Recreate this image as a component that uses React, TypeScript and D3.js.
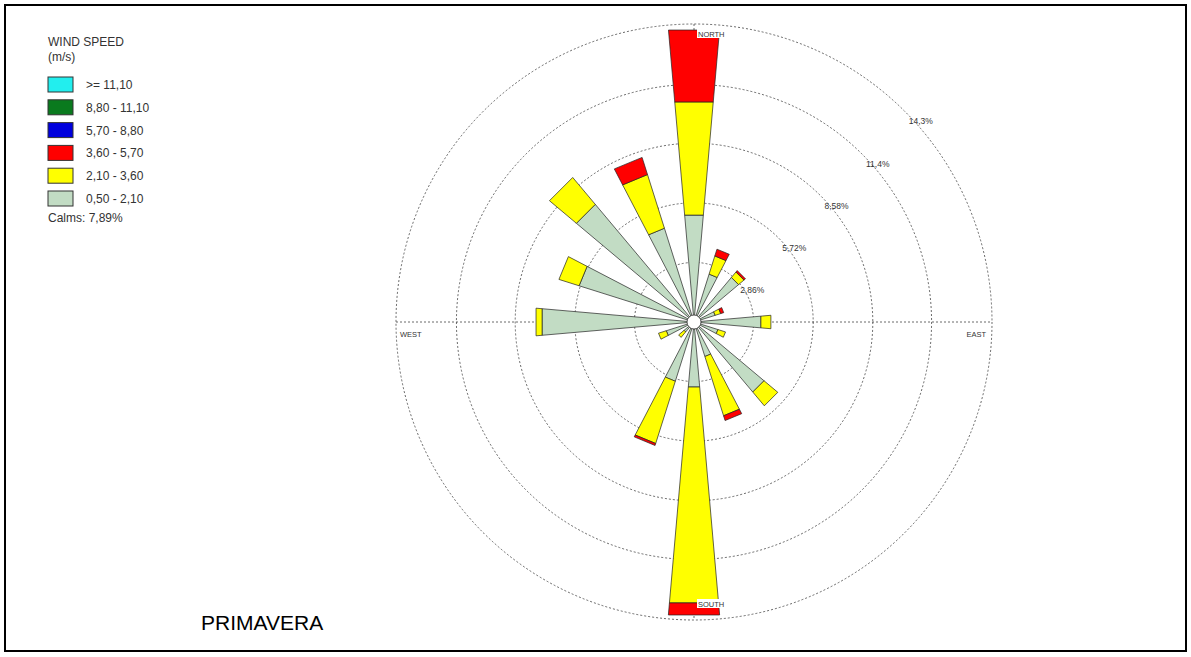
import React from 'react';
import * as d3 from 'd3';

// 16 sectors, clockwise from north
const directions = ['N', 'NNE', 'NE', 'ENE', 'E', 'ESE', 'SE', 'SSE', 'S', 'SSW', 'SW', 'WSW', 'W', 'WNW', 'NW', 'NNW'];

// frequency (%) per speed class
const speed050 = [5.13, 2.4, 2.78, 1.06, 3.21, 1.2, 4.37, 1.73, 3.12, 2.97, 0.62, 1.39, 7.29, 5.76, 7.34, 4.7];
const speed210 = [5.43, 0.91, 0.34, 0.28, 0.48, 0.38, 0.86, 2.97, 10.36, 3.12, 0.34, 0.39, 0.29, 1.01, 1.68, 2.69];
const speed360 = [3.45, 0.34, 0.09, 0.15, 0, 0, 0, 0.24, 0.58, 0.1, 0, 0, 0, 0, 0, 0.86];
const speed570 = [0, 0, 0, 0, 0, 0, 0, 0, 0, 0, 0, 0, 0, 0, 0, 0];
const speed880 = [0, 0, 0, 0, 0, 0, 0, 0, 0, 0, 0, 0, 0, 0, 0, 0];
const speed1110 = [0, 0, 0, 0, 0, 0, 0, 0, 0, 0, 0, 0, 0, 0, 0, 0];

const legendLabels = ['>= 11,10', '8,80 - 11,10', '5,70 - 8,80', '3,60 - 5,70', '2,10 - 3,60', '0,50 - 2,10'];
const legendColors = ['#22eeee', '#0a7a1e', '#0000dd', '#ff0000', '#ffff00', '#c2dcc4'];

const ringValues = [2.86, 5.72, 8.58, 11.4, 14.3];
const ringLabels = ['2,86%', '5,72%', '8,58%', '11,4%', '14,3%'];

const calmsText = 'Calms: 7,89%';
const title = 'PRIMAVERA';

const W = 1191;
const H = 657;
const cx = 694;
const cy = 322;
const font = 'Arial, "Liberation Sans", sans-serif';

export default function App() {
  const keys = ['s050', 's210', 's360', 's570', 's880', 's1110'];
  const series = [speed050, speed210, speed360, speed570, speed880, speed1110];
  const colors = legendColors.slice().reverse();

  const table = directions.map((d, i) => {
    const row: any = { dir: d };
    keys.forEach((k, j) => (row[k] = series[j][i]));
    return row;
  });
  const stacked = d3.stack().keys(keys)(table);

  const r = d3.scaleLinear().domain([0, 14.3]).range([0, 298]);
  const angle = d3.scaleLinear().domain([0, directions.length]).range([0, 2 * Math.PI]);
  const half = (5 * Math.PI) / 180;

  const pt = (a: number, rad: number): [number, number] => [cx + rad * Math.sin(a), cy - rad * Math.cos(a)];
  const line = d3.line();

  const segment = (i: number, v0: number, v1: number) => {
    const a = angle(i);
    const r0 = r(v0) / Math.cos(half);
    const r1 = r(v1) / Math.cos(half);
    return line([pt(a - half, r0), pt(a - half, r1), pt(a + half, r1), pt(a + half, r0)]) + 'Z';
  };

  const rOut = r(14.3);

  return (
    <svg width={W} height={H} style={{ position: 'absolute', left: 0, top: 0 }} fontFamily={font}>
      <rect x={0} y={0} width={W} height={H} fill="#fff" />
      <rect x={5} y={5} width={1181} height={646} fill="none" stroke="#000" strokeWidth={2} />

      {/* rings and axes */}
      {ringValues.map((v) => (
        <circle key={v} cx={cx} cy={cy} r={r(v)} fill="none" stroke="#444" strokeWidth={0.8} strokeDasharray="2,2" />
      ))}
      <line x1={cx - rOut} x2={cx + rOut} y1={cy} y2={cy} stroke="#444" strokeWidth={0.8} strokeDasharray="2,2" />
      <line x1={cx} x2={cx} y1={cy - rOut} y2={cy + rOut} stroke="#444" strokeWidth={0.8} strokeDasharray="2,2" />

      {/* bars */}
      {stacked.map((s, j) => (
        <g key={s.key} fill={colors[j]} stroke="#222" strokeWidth={0.7}>
          {s.map((d, i) =>
            d[1] - d[0] > 0 ? <path key={i} d={segment(i, d[0], d[1])} /> : null
          )}
        </g>
      ))}
      <circle cx={cx} cy={cy} r={7} fill="#fff" stroke="#333" strokeWidth={0.8} />

      {/* ring labels */}
      {ringValues.map((v, i) => {
        const [x, y] = pt(Math.PI / 4, r(v));
        return (
          <text key={v} x={x + 4} y={y + 13} fontSize={8.5} fill="#333">
            {ringLabels[i]}
          </text>
        );
      })}

      {/* compass labels */}
      <rect x={697} y={29} width={26} height={9} fill="#fff" />
      <text x={698} y={37} fontSize={7.5} fill="#333">NORTH</text>
      <rect x={697} y={599} width={26} height={9} fill="#fff" />
      <text x={698} y={607} fontSize={7.5} fill="#333">SOUTH</text>
      <text x={400} y={337} fontSize={7.5} fill="#333">WEST</text>
      <text x={986} y={337} fontSize={7.5} fill="#333" textAnchor="end">EAST</text>

      {/* legend */}
      <text x={48} y={46} fontSize={12} fill="#333">WIND SPEED</text>
      <text x={48} y={61} fontSize={12} fill="#333">(m/s)</text>
      {legendLabels.map((l, i) => (
        <g key={l}>
          <rect x={48} y={77 + i * 22.8} width={25} height={15} fill={legendColors[i]} stroke="#333" strokeWidth={1} />
          <text x={86} y={89 + i * 22.8} fontSize={12} fill="#333">{l}</text>
        </g>
      ))}
      <text x={48} y={222} fontSize={12} fill="#333">{calmsText}</text>

      <text x={201} y={630} fontSize={21} fill="#000">{title}</text>
    </svg>
  );
}
